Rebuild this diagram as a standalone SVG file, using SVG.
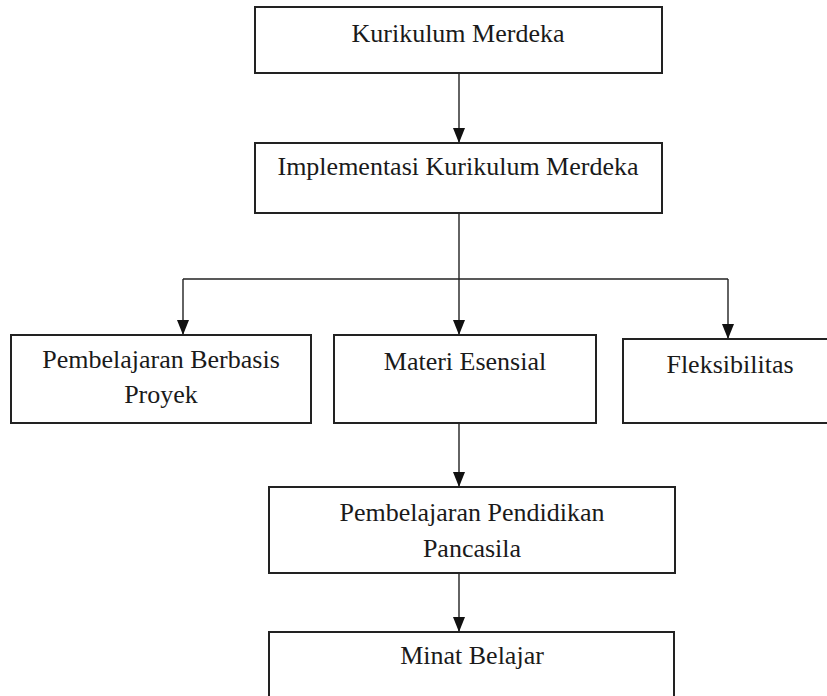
<svg xmlns="http://www.w3.org/2000/svg" width="827" height="696" viewBox="0 0 827 696">
<style>
.box{fill:#fff;stroke:#222;stroke-width:2}
.lbl{font-family:"Liberation Serif","Times New Roman",serif;font-size:26px;fill:#1a1a1a;text-anchor:middle}
.con{fill:none;stroke:#222;stroke-width:1.4}
</style>
<defs>
<path id="head" d="M-6,-15 L6,-15 L0,0 Z" fill="#111"/>
</defs>
<rect width="827" height="696" fill="#fff"/>
<g id="connectors">
<path class="con" d="M459,73 V143"/>
<path class="con" d="M459,213 V279"/>
<path class="con" d="M183,279 H728"/>
<path class="con" d="M183,279 V335"/>
<path class="con" d="M459,279 V335"/>
<path class="con" d="M728,279 V339"/>
<path class="con" d="M459,423 V487"/>
<path class="con" d="M459,573 V632"/>
<use href="#head" x="459" y="143"/>
<use href="#head" x="183" y="335"/>
<use href="#head" x="459" y="335"/>
<use href="#head" x="728" y="339"/>
<use href="#head" x="459" y="487"/>
<use href="#head" x="459" y="632"/>
</g>
<g id="kurikulum">
<rect class="box" x="255" y="7" width="407" height="66"/>
<text class="lbl" x="458" y="42">Kurikulum Merdeka</text>
</g>
<g id="implementasi">
<rect class="box" x="255" y="143" width="407" height="70"/>
<text class="lbl" x="458" y="175">Implementasi Kurikulum Merdeka</text>
</g>
<g id="pjbl">
<rect class="box" x="11" y="335" width="300" height="88"/>
<text class="lbl" x="161" y="368">Pembelajaran Berbasis</text>
<text class="lbl" x="161" y="403">Proyek</text>
</g>
<g id="materi">
<rect class="box" x="334" y="335" width="262" height="88"/>
<text class="lbl" x="465" y="370">Materi Esensial</text>
</g>
<g id="fleksibilitas">
<rect class="box" x="623" y="339" width="210" height="84"/>
<text class="lbl" x="730" y="373">Fleksibilitas</text>
</g>
<g id="pancasila">
<rect class="box" x="269" y="487" width="406" height="86"/>
<text class="lbl" x="472" y="521">Pembelajaran Pendidikan</text>
<text class="lbl" x="472" y="557">Pancasila</text>
</g>
<g id="minat">
<rect class="box" x="269" y="632" width="405" height="80"/>
<text class="lbl" x="472" y="664">Minat Belajar</text>
</g>
</svg>
